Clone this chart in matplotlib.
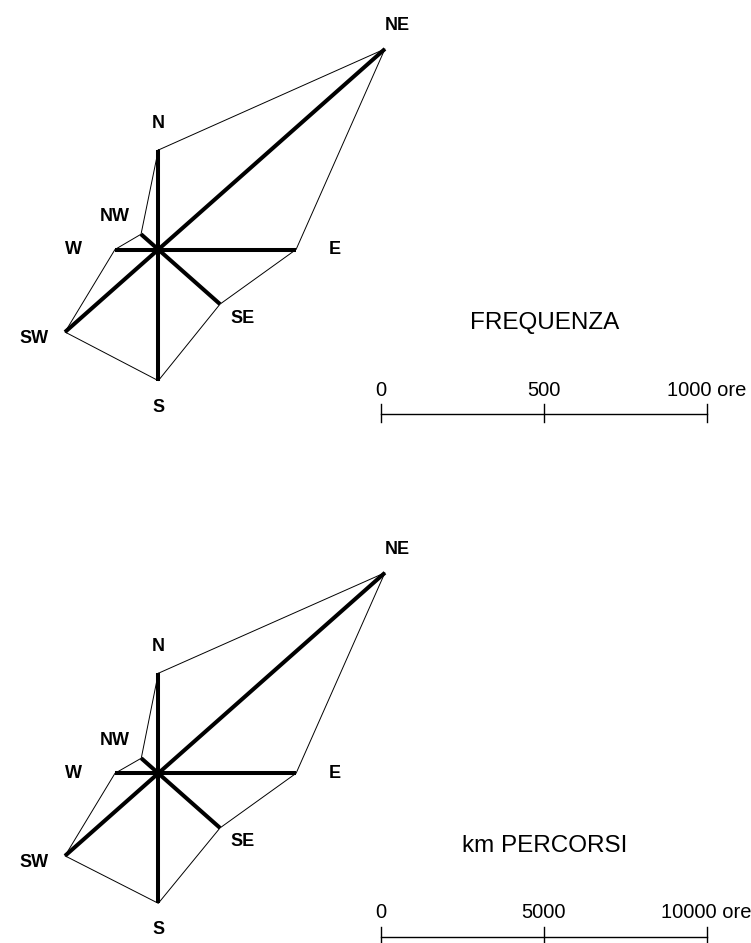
import numpy as np
import matplotlib
matplotlib.use("Agg")
import matplotlib.pyplot as plt

plt.rcParams['font.family'] = ['Liberation Sans', 'DejaVu Sans']

directions = ["N", "NE", "E", "SE", "S", "SW", "W", "NW"]
angles_deg = [90, 45, 0, -45, -90, -135, 180, 135]
freq_ore = [345, 984, 423, 268, 455, 405, 133, 75]
km_percorsi = [3470, 9840, 4230, 2680, 4510, 4050, 1330, 740]

freq_ticks = [0, 500, 1000]
freq_tick_labels = ["0", "500", "1000 ore"]
km_ticks = [0, 5000, 10000]
km_tick_labels = ["0", "5000", "10000 ore"]

titles = ["FREQUENZA", "km PERCORSI"]

# label offsets (points) from the end of each spoke
label_offsets = {"N": (0, 19), "NE": (9, 17), "E": (28, 0), "SE": (16, -10),
                 "S": (0, -19), "SW": (-22, -5), "W": (-30, 0), "NW": (-19, 13)}

W, H = 751, 943
fig = plt.figure(figsize=(W / 100, H / 100), dpi=100)
fig.patch.set_facecolor("white")


def panel(top_px, bot_px, cx_px, cy_px, sx, sy):
    ax = fig.add_axes([0, 1 - bot_px / H, 1, (bot_px - top_px) / H])
    ax.set_xlim(-cx_px / sx, (W - cx_px) / sx)
    ax.set_ylim(-(bot_px - cy_px) / sy, (cy_px - top_px) / sy)
    ax.axis("off")

    def px(xp, yp):
        return (xp - cx_px) / sx, (cy_px - yp) / sy
    return ax, px


def draw_rose(ax, values):
    th = np.radians(angles_deg)
    xs = np.array(values) * np.cos(th)
    ys = np.array(values) * np.sin(th)
    ax.plot(np.append(xs, xs[0]), np.append(ys, ys[0]), color="black", lw=0.7)
    for x, y, d in zip(xs, ys, directions):
        ax.plot([0, x], [0, y], color="black", lw=2.9, solid_capstyle="butt")
        ax.annotate(d, (x, y), xytext=label_offsets[d], textcoords="offset points",
                    ha="center", va="center", fontsize=13, fontweight="bold")


def draw_scale(ax, px, ticks, labels, bar_y_px, label_y_px, title, title_y_px):
    x0, _ = px(381, 0)
    _, ybar = px(0, bar_y_px)
    _, ylab = px(0, label_y_px)
    _, ytick_top = px(0, bar_y_px - 10)
    _, ytick_bot = px(0, bar_y_px + 8)
    xs = [x0 + t for t in ticks]
    ax.plot([xs[0], xs[-1]], [ybar, ybar], color="black", lw=1.0)
    for x, lab in zip(xs, labels):
        ax.plot([x, x], [ytick_bot, ytick_top], color="black", lw=1.0)
        ax.text(x, ylab, lab, ha="center", va="center", fontsize=14.5, clip_on=False)
    tx, ty = px(545, title_y_px)
    ax.text(tx, ty, title, ha="center", va="center", fontsize=17.5)


sx_top = 0.3257
sy_top = sx_top * 0.885
ax1, px1 = panel(0, 471.5, 158.3, 249.5, sx_top, sy_top)
draw_rose(ax1, freq_ore)
draw_scale(ax1, px1, freq_ticks, freq_tick_labels, 414, 390, titles[0], 323)

sx_bot = 0.03257
sy_bot = sx_bot * 0.885
ax2, px2 = panel(471.5, 943, 158.3, 773.3, sx_bot, sy_bot)
draw_rose(ax2, km_percorsi)
draw_scale(ax2, px2, km_ticks, km_tick_labels, 937, 913, titles[1], 846)

fig.savefig("out.png", dpi=100, facecolor="white")
